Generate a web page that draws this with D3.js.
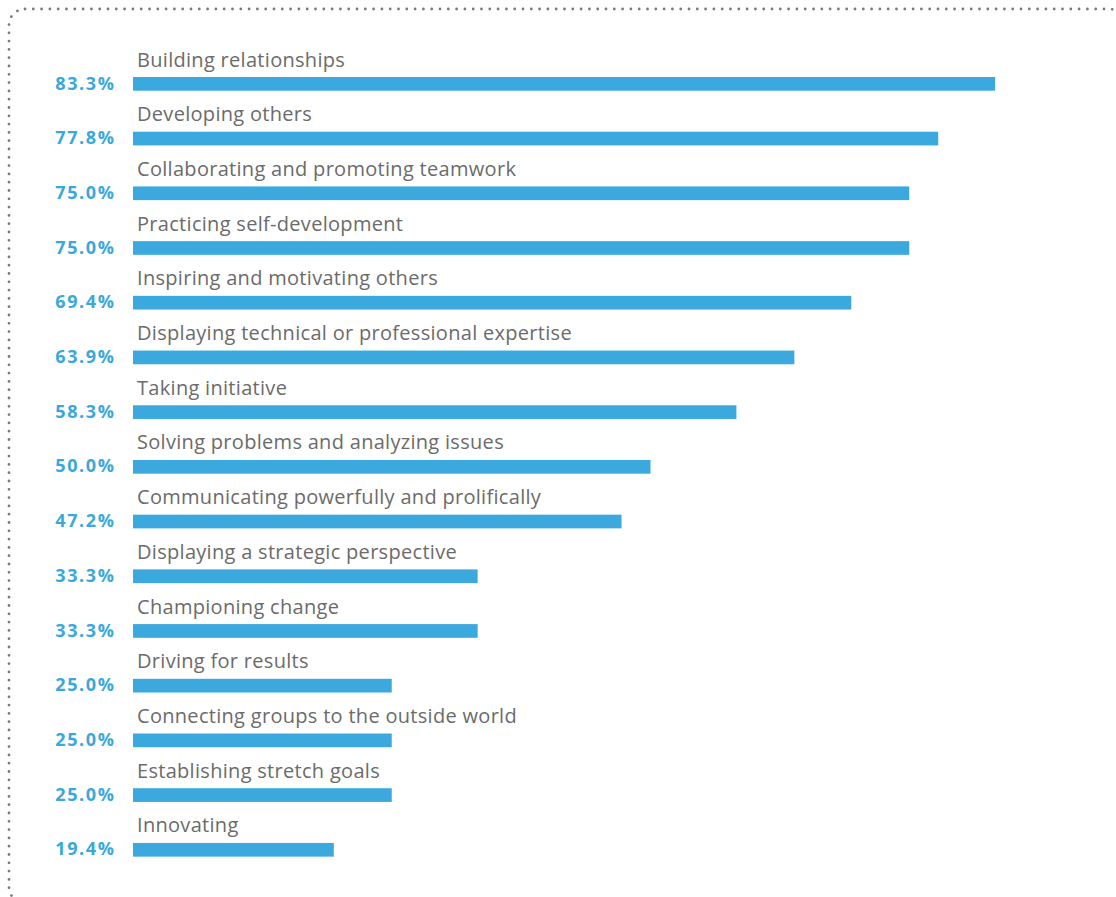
<!DOCTYPE html>
<html>
<head>
<meta charset="utf-8">
<script src="https://cdn.jsdelivr.net/npm/d3@7"></script>
<style>
  html, body { margin: 0; padding: 0; background: #ffffff; }
  svg { display: block; }
</style>
</head>
<body>
<svg id="chart" width="1116" height="897"></svg>
<script>
// Leadership competencies, share of respondents (%)
const categories = [
  "Building relationships",
  "Developing others",
  "Collaborating and promoting teamwork",
  "Practicing self-development",
  "Inspiring and motivating others",
  "Displaying technical or professional expertise",
  "Taking initiative",
  "Solving problems and analyzing issues",
  "Communicating powerfully and prolifically",
  "Displaying a strategic perspective",
  "Championing change",
  "Driving for results",
  "Connecting groups to the outside world",
  "Establishing stretch goals",
  "Innovating"
];
const values = [83.3, 77.8, 75.0, 75.0, 69.4, 63.9, 58.3, 50.0, 47.2, 33.3, 33.3, 25.0, 25.0, 25.0, 19.4];

const svg = d3.select("#chart");

const barColor = "#3ba9de";
const pctColor = "#3aa8dc";
const textColor = "#6b6b6b";

// dotted rounded frame
svg.append("rect")
  .attr("x", 9).attr("y", 9)
  .attr("width", 1116).attr("height", 894)
  .attr("rx", 16).attr("ry", 16)
  .attr("fill", "none")
  .attr("stroke", "#7a7a7a")
  .attr("stroke-width", 2.8)
  .attr("stroke-linecap", "round")
  .attr("stroke-dasharray", "0 8.3");

const x = d3.scaleLinear().domain([0, 100]).range([133, 133 + 1035]);

// rows: first bar top at 77, 54.71 px per row, bars 13.7 px tall
const rowStep = 54.71, barH = 13.7, firstBarY = 77;
const y = d3.scaleBand()
  .domain(categories)
  .range([firstBarY, firstBarY + rowStep * (categories.length - 1) + barH])
  .paddingInner(1 - barH / rowStep)
  .paddingOuter(0);

const rows = svg.append("g").selectAll("g")
  .data(categories.map((c, i) => ({ c, v: values[i] })))
  .join("g");

rows.append("rect")
  .attr("x", x(0))
  .attr("y", d => y(d.c))
  .attr("width", d => x(d.v) - x(0))
  .attr("height", y.bandwidth())
  .attr("fill", barColor);

rows.append("text")
  .attr("x", 137)
  .attr("y", d => y(d.c) - 10.5)
  .attr("font-family", "'Open Sans', sans-serif")
  .attr("font-size", 20)
  .attr("letter-spacing", 0.3)
  .attr("fill", textColor)
  .text(d => d.c);

rows.append("text")
  .attr("x", 115.5)
  .attr("y", d => y(d.c) + 12.5)
  .attr("text-anchor", "end")
  .attr("font-family", "'Open Sans', sans-serif")
  .attr("font-weight", "bold")
  .attr("font-size", 18)
  .attr("letter-spacing", 1.6)
  .attr("fill", pctColor)
  .text(d => d.v.toFixed(1) + "%");
</script>
</body>
</html>
